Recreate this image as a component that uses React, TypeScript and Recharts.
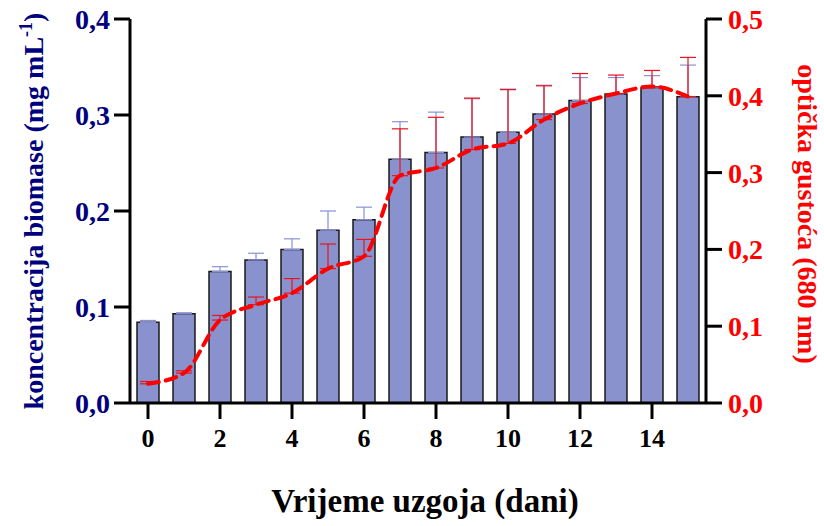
import React from 'react';
import {
  ComposedChart,
  Bar,
  Line,
  XAxis,
  YAxis,
  ErrorBar,
  Label,
} from 'recharts';

const days = [0, 1, 2, 3, 4, 5, 6, 7, 8, 9, 10, 11, 12, 13, 14, 15];
const biomass = [0.084, 0.093, 0.137, 0.149, 0.16, 0.18, 0.191, 0.254, 0.261, 0.277, 0.282, 0.301, 0.315, 0.322, 0.328, 0.319];
const biomassErr = [0.002, 0.001, 0.005, 0.007, 0.011, 0.02, 0.013, 0.039, 0.042, 0.04, 0.045, 0.03, 0.024, 0.017, 0.013, 0.033];
const opticalDensity = [0.025, 0.039, 0.108, 0.128, 0.143, 0.175, 0.191, 0.296, 0.306, 0.33, 0.338, 0.369, 0.39, 0.403, 0.412, 0.399];
const opticalErr = [0.003, 0.003, 0.006, 0.01, 0.019, 0.032, 0.022, 0.061, 0.066, 0.067, 0.07, 0.044, 0.039, 0.024, 0.021, 0.051];

const leftTicks = [0, 0.1, 0.2, 0.3, 0.4];
const rightTicks = [0, 0.1, 0.2, 0.3, 0.4, 0.5];

const data = days.map((day, i) => ({
  day,
  biomass: biomass[i],
  biomassErr: [0, biomassErr[i]],
  od: opticalDensity[i],
  odErr: [0, opticalErr[i]],
}));

const NAVY = '#00007f';
const RED = '#ff0000';
const FONT = 'Liberation Serif, DejaVu Serif, serif';

const fmt = (v: number) => v.toFixed(1).replace('.', ',');

export default function App() {
  return (
    <div style={{ position: 'absolute', left: 0, top: 0, background: '#fff', fontFamily: FONT }}>
      <ComposedChart
        width={824}
        height={526}
        data={data}
        margin={{ top: 19, right: 0, left: 0, bottom: 0 }}
        barSize={22}
        style={{ fontFamily: FONT, fontWeight: 'bold' }}
      >
        <XAxis
          dataKey="day"
          interval={1}
          height={123}
          tickSize={16}
          tickMargin={10}
          axisLine={{ stroke: '#000', strokeWidth: 3 }}
          tickLine={{ stroke: '#000', strokeWidth: 3 }}
          tick={{ fill: '#000', fontSize: 26, fontWeight: 'bold', style: { fontFamily: FONT } }}
        >
          <Label
            content={() => (
              <text
                x={425}
                y={512}
                textAnchor="middle"
                fill="#000"
                fontSize={33}
                fontWeight="bold"
                style={{ fontFamily: FONT }}
              >
                Vrijeme uzgoja (dani)
              </text>
            )}
          />
        </XAxis>
        <YAxis
          yAxisId="left"
          width={130}
          domain={[0, 0.4]}
          ticks={leftTicks}
          tickFormatter={fmt}
          tickSize={16}
          tickMargin={4}
          axisLine={{ stroke: '#000', strokeWidth: 3 }}
          tickLine={{ stroke: '#000', strokeWidth: 3 }}
          tick={{ fill: NAVY, fontSize: 28, fontWeight: 'bold', style: { fontFamily: FONT } }}
        >
          <Label
            content={() => (
              <text
                transform="translate(43, 211) rotate(-90)"
                textAnchor="middle"
                fill={NAVY}
                fontSize={28}
                fontWeight="bold"
                style={{ fontFamily: FONT }}
              >
                koncentracija biomase (mg mL
                <tspan dy={-11} fontSize={18}>-1</tspan>
                <tspan dy={11}>)</tspan>
              </text>
            )}
          />
        </YAxis>
        <YAxis
          yAxisId="right"
          orientation="right"
          width={118}
          domain={[0, 0.5]}
          ticks={rightTicks}
          tickFormatter={fmt}
          tickSize={16}
          tickMargin={6}
          axisLine={{ stroke: '#000', strokeWidth: 3 }}
          tickLine={{ stroke: '#000', strokeWidth: 3 }}
          tick={{ fill: RED, fontSize: 28, fontWeight: 'bold', style: { fontFamily: FONT } }}
        >
          <Label
            content={() => (
              <text
                transform="translate(798, 214) rotate(90)"
                textAnchor="middle"
                fill={RED}
                fontSize={28}
                fontWeight="bold"
                style={{ fontFamily: FONT }}
              >
                optička gustoća (680 nm)
              </text>
            )}
          />
        </YAxis>
        <Bar
          yAxisId="left"
          dataKey="biomass"
          fill="#8a92ce"
          stroke="#1a1a1a"
          strokeWidth={1.5}
          isAnimationActive={false}
        >
          <ErrorBar dataKey="biomassErr" direction="y" width={8} stroke="#8a90d6" strokeWidth={1.2} />
        </Bar>
        <Line
          yAxisId="right"
          type="monotone"
          dataKey="od"
          stroke={RED}
          strokeWidth={4}
          strokeDasharray="11 7"
          strokeLinecap="round"
          dot={false}
          activeDot={false}
          isAnimationActive={false}
        >
          <ErrorBar dataKey="odErr" direction="y" width={8} stroke="#e8141c" strokeWidth={1.2} />
        </Line>
      </ComposedChart>
    </div>
  );
}
